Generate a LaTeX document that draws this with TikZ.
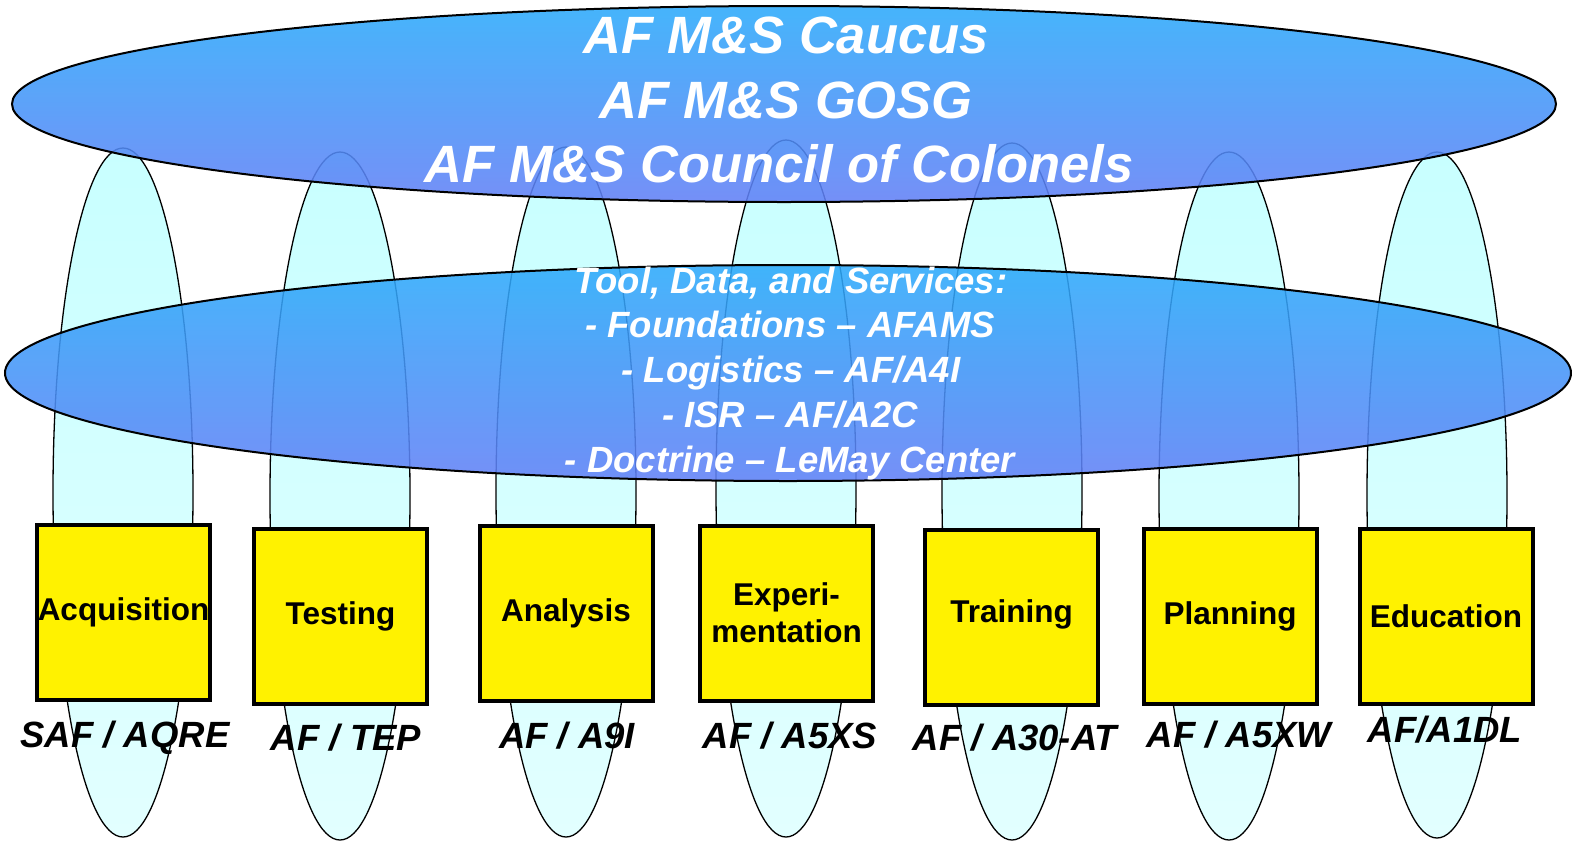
\documentclass[tikz,border=0pt]{standalone}
\usepackage{fontspec}
\setmainfont{Liberation Sans}
\usetikzlibrary{shapes.geometric}

\definecolor{skyTop}{RGB}{44,170,250}
\definecolor{skyBot}{RGB}{98,128,246}
\definecolor{paleTop}{RGB}{200,255,255}
\definecolor{paleBot}{RGB}{226,255,255}

\begin{document}
\begin{tikzpicture}[x=1pt, y=-1pt,
            column/.style = {ellipse, draw=black, line width=1.3pt, inner sep=0pt,
                             top color=paleTop, bottom color=paleBot, minimum width=140pt},
            forum/.style  = {ellipse, draw=black, line width=2pt, inner sep=0pt,
                             top color=skyTop, bottom color=skyBot, fill opacity=0.88},
            office/.style = {rectangle, draw=black, line width=4pt, fill=yellow,
                             minimum width=173pt, minimum height=175pt, inner sep=0pt,
                             align=center, font=\fontsize{31.5}{37}\selectfont\bfseries},
            owner/.style  = {anchor=base, inner sep=0pt,
                             font=\fontsize{36.5}{40}\selectfont\bfseries\itshape},
            board/.style  = {anchor=base, inner sep=0pt, text=white,
                             font=\fontsize{52.5}{60}\selectfont\bfseries\itshape},
            service/.style = {anchor=base, inner sep=0pt, text=white,
                             font=\fontsize{36.5}{40}\selectfont\bfseries\itshape}
                             ]
    \useasboundingbox (0,0) rectangle (1572,841);
    % communities
    \node [column, minimum height=689pt] (acqE)   at (123,492.5) {};
    \node [column, minimum height=688pt] (testE)  at (340,496) {};
    \node [column, minimum height=690pt] (anaE)   at (566,492) {};
    \node [column, minimum height=697pt] (expE)   at (786,488.5) {};
    \node [column, minimum height=697pt] (trainE) at (1012,491.5) {};
    \node [column, minimum height=688pt] (planE)  at (1229,496) {};
    \node [column, minimum height=686pt] (eduE)   at (1437,495) {};
    %
    \node [office] (acq)        at (123.5,612.5) {Acquisition};
    \node [office] (testing)    at (340.5,616)   {Testing};
    \node [office] (analysis)   at (566,613)     {Analysis};
    \node [office] (experiment) at (786.5,613)   {Experi-\\mentation};
    \node [office] (training)   at (1011.5,617.5) {\raisebox{12pt}{Training}};
    \node [office] (planning)   at (1230,616.5)  {Planning};
    \node [office] (education)  at (1446,616.5)  {Education};
    %
    \node [owner] (acqL)   at (125,747)  {SAF / AQRE};
    \node [owner] (testL)  at (346,750)  {AF / TEP};
    \node [owner] (anaL)   at (567,748)  {AF / A9I};
    \node [owner] (expL)   at (790,748)  {AF / A5XS};
    \node [owner] (trainL) at (1015,750) {AF / A30-AT};
    \node [owner] (planL)  at (1239,747) {AF / A5XW};
    \node [owner] (eduL)   at (1445,742) {AF/A1DL};
    % governance and services
    \node [forum, minimum width=1544pt, minimum height=196pt] (council) at (784,104) {};
    \node [forum, minimum width=1566pt, minimum height=216pt] (tools)   at (788,373) {};
    %
    \node [board] (caucus)   at (786,53)  {AF M\&S Caucus};
    \node [board] (gosg)     at (786,118) {AF M\&S GOSG};
    \node [board] (colonels) at (779,182) {AF M\&S Council of Colonels};
    %
    \node [service] (tds)   at (791,293) {Tool, Data, and Services:};
    \node [service] (found) at (790,337) {- Foundations – AFAMS};
    \node [service] (logi)  at (791,382) {- Logistics – AF/A4I};
    \node [service] (isr)   at (790,427) {- ISR – AF/A2C};
    \node [service] (doct)  at (790,472) {- Doctrine – LeMay Center};
\end{tikzpicture}
\end{document}
